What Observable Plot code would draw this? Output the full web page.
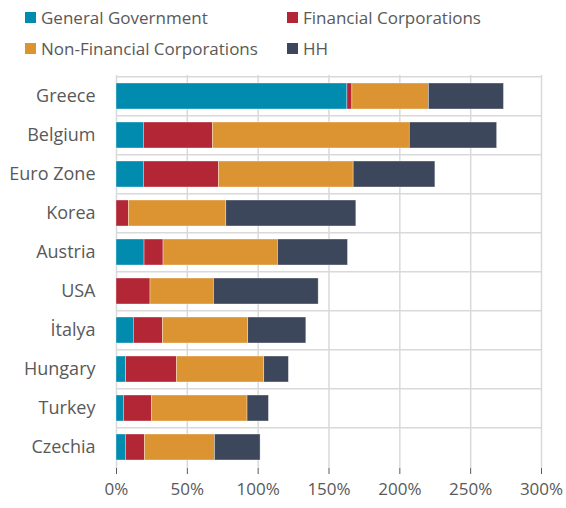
<!DOCTYPE html>
<html>
<head>
<meta charset="utf-8">
<script src="https://cdn.jsdelivr.net/npm/d3@7"></script>
<script src="https://cdn.jsdelivr.net/npm/@observablehq/plot@0.6"></script>
<style>
  html, body { margin: 0; padding: 0; background: #fff; }
  body { width: 566px; height: 508px; overflow: hidden; font-family: "Open Sans", sans-serif; }
  #legend { position: relative; height: 65px; width: 566px; color: #595959; font-size: 17px; }
  #chart svg { display: block; }
  .item { position: absolute; display: flex; align-items: center; white-space: nowrap; }
  .sw { width: 11px; height: 11px; margin-right: 5px; }
</style>
</head>
<body>
<div id="legend"></div>
<div id="chart"></div>
<script>
const countries = ["Greece", "Belgium", "Euro Zone", "Korea", "Austria", "USA", "İtalya", "Hungary", "Turkey", "Czechia"];
const series = ["General Government", "Financial Corporations", "Non-Financial Corporations", "HH"];
const colors = ["#008BAF", "#B22636", "#DB9431", "#3D475B"];
const generalGovernment = [163, 19.3, 19.3, 0, 19.8, 0, 12.2, 6.8, 5.2, 6.6];
const financialCorporations = [3.5, 48.7, 53, 8.7, 13.4, 24, 20.5, 35.8, 20, 13.4];
const nonFinancialCorporations = [54, 139, 95.1, 68.8, 80.8, 44.8, 60.3, 61.7, 67.3, 49.5];
const households = [53, 61.7, 57.7, 91.8, 49.4, 73.9, 41, 17.4, 15.1, 32.2];
const xTicks = [0, 50, 100, 150, 200, 250, 300];

const seriesValues = [generalGovernment, financialCorporations, nonFinancialCorporations, households];
const data = [];
series.forEach((s, si) => countries.forEach((c, ci) => data.push({country: c, series: s, value: seriesValues[si][ci]})));

// legend
const legendPos = [[25, 17], [287, 17], [25, 48], [287, 48]];
const legend = document.getElementById("legend");
series.forEach((s, i) => {
  const d = document.createElement("div");
  d.className = "item";
  d.style.left = legendPos[i][0] + "px";
  d.style.top = (legendPos[i][1] - 12) + "px";
  d.style.height = "24px";
  d.innerHTML = `<span class="sw" style="background:${colors[i]}"></span><span>${s}</span>`;
  legend.appendChild(d);
});

const bandBounds = countries.map(c => ({country: c}));

const plot = Plot.plot({
  width: 566,
  height: 443,
  marginLeft: 116,
  marginRight: 25,
  marginTop: 10,
  marginBottom: 40,
  style: {fontFamily: "Open Sans, sans-serif", fontSize: "17px", color: "#595959", background: "white"},
  x: {domain: [0, 300], ticks: xTicks, tickFormat: d => d + "%", label: null},
  y: {domain: countries, paddingInner: 0.33, paddingOuter: 0.165, label: null},
  color: {domain: series, range: colors},
  marks: [
    Plot.gridX(xTicks, {stroke: "#d9d9d9", strokeOpacity: 1, strokeWidth: 1.5}),
    Plot.tickY(bandBounds, {y: "country", x1: 0, x2: 300, stroke: "#d9d9d9", strokeWidth: 1.5, dy: -19.65}),
    Plot.barX(data, Plot.stackX({y: "country", x: "value", fill: "series", order: series, stroke: "white", strokeWidth: 0.6, strokeOpacity: 0.6})),
    Plot.axisY({tickSize: 0, tickPadding: 21, fontSize: 18, fill: "#595959"}),
    Plot.axisX({ticks: xTicks, tickFormat: d => d + "%", tickSize: 6, tickPadding: 8, fontSize: 17, fill: "#595959", stroke: "#595959"}),
    Plot.ruleY([0], {frameAnchor: "bottom", stroke: "#7f7f7f", strokeWidth: 1})
  ]
});
document.getElementById("chart").appendChild(plot);
</script>
</body>
</html>
